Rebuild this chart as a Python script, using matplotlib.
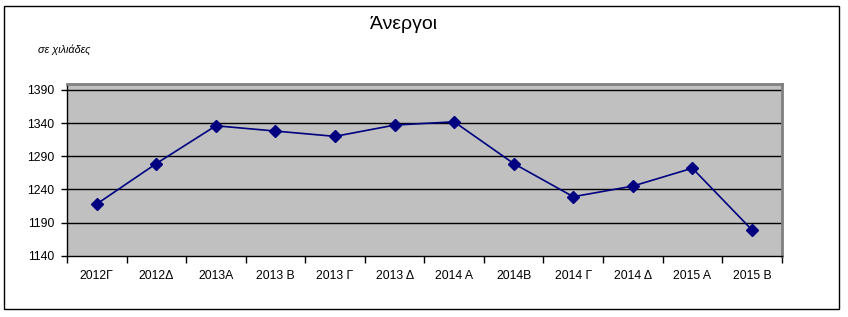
import matplotlib
matplotlib.use("Agg")
import matplotlib.pyplot as plt
from matplotlib.patches import Rectangle

categories = ["2012Γ", "2012Δ", "2013Α", "2013 Β", "2013 Γ", "2013 Δ",
              "2014 Α", "2014Β", "2014 Γ", "2014 Δ", "2015 Α", "2015 Β"]
values = [1218, 1279, 1336, 1328, 1320, 1337, 1342, 1279, 1229, 1245, 1272, 1179]
yticks = [1140, 1190, 1240, 1290, 1340, 1390]

plt.rcParams['font.family'] = ['Liberation Sans', 'DejaVu Sans']

fig = plt.figure(figsize=(8.48, 3.17), dpi=100)
W, H = 848, 317
ax = fig.add_axes([67 / W, 1 - 255.7 / H, (781.7 - 67) / W, (255.7 - 84) / H])
ax.set_facecolor("#C0C0C0")

x = list(range(len(categories)))
ax.plot(x, values, color="#000080", lw=1.2, marker="D", markersize=6.5,
        markerfacecolor="#000080", markeredgecolor="#000080", zorder=3)

ax.set_xlim(-0.5, len(categories) - 0.5)
ax.set_ylim(1140, 1399)
ax.set_yticks(yticks)
ax.set_yticklabels([str(v) for v in yticks], fontsize=8.8)
for v in yticks[1:]:
    ax.axhline(v, color="black", lw=1, zorder=1)

ax.set_xticks(x)
ax.set_xticklabels(categories, fontsize=8.8)
ax.tick_params(axis="x", which="major", length=0, pad=10)
ax.set_xticks([i - 0.5 for i in range(len(categories) + 1)], minor=True)
ax.tick_params(axis="x", which="minor", length=5, width=1, direction="out")
ax.tick_params(axis="y", length=4, width=1, direction="out", pad=5)

for s in ["left", "bottom"]:
    ax.spines[s].set_color("black")
    ax.spines[s].set_linewidth(1)
for s in ["top", "right"]:
    ax.spines[s].set_color("#808080")
    ax.spines[s].set_linewidth(2)

fig.text(403.5 / W, 1 - 29 / H, "Άνεργοι", ha="center", va="baseline", fontsize=14)
fig.text(38 / W, 1 - 53 / H, "σε χιλιάδες", ha="left", va="baseline",
         fontsize=7.8, style="italic")

fig.patches.append(Rectangle((4 / W, 1 - 309 / H), 835 / W, 303 / H,
                             transform=fig.transFigure, fill=False,
                             edgecolor="black", lw=1))

fig.savefig("out.png", dpi=100)
